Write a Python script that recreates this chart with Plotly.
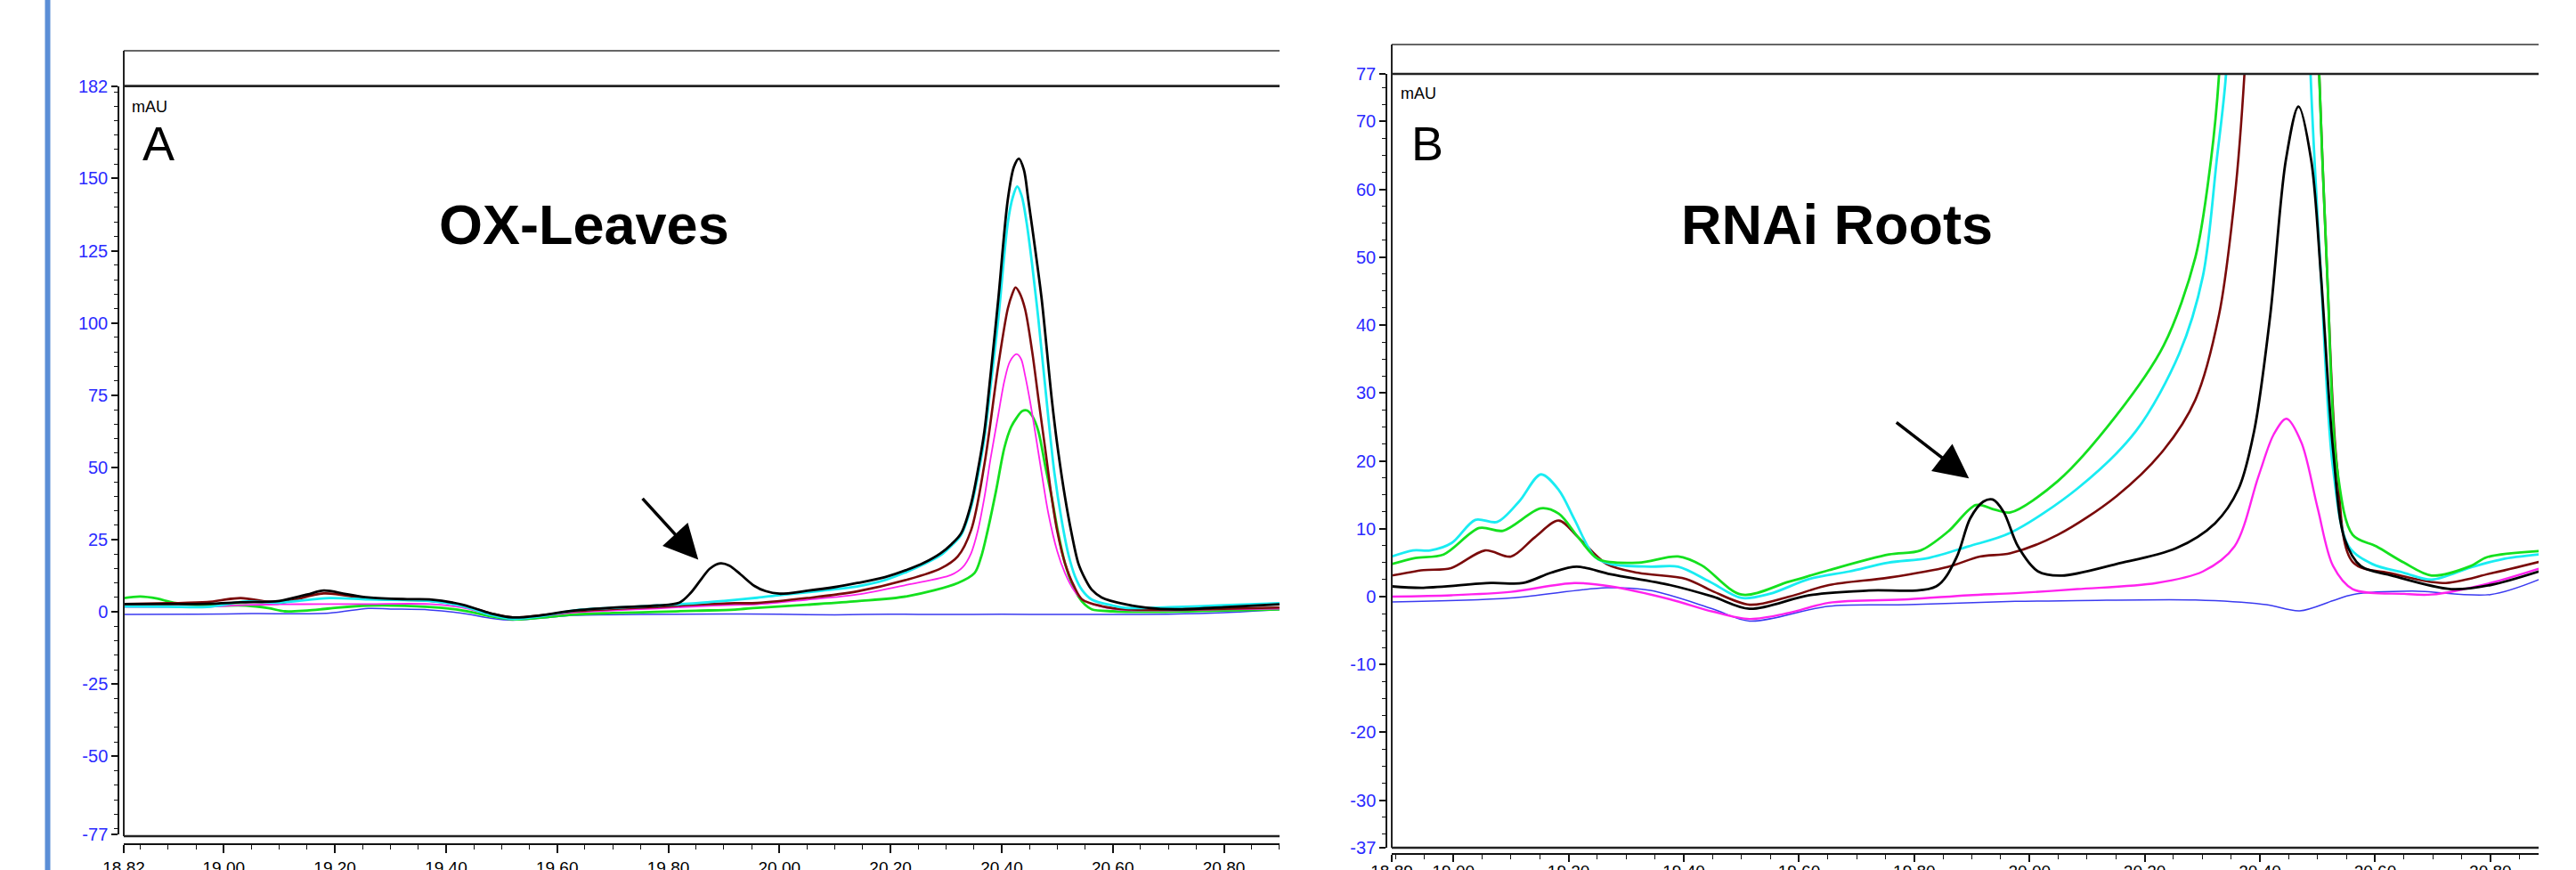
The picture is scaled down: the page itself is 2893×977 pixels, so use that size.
import plotly.graph_objects as go

W, H = 2893, 977

# ---------------- Panel A : OX-Leaves ----------------
a_black_t = [18.82, 18.90, 18.97, 19.03, 19.10, 19.15, 19.18, 19.22, 19.26, 19.33, 19.37, 19.43, 19.48, 19.52, 19.57,
             19.63, 19.70, 19.78, 19.82, 19.84, 19.86, 19.875, 19.894, 19.91, 19.93, 19.955, 19.975, 20.00, 20.05,
             20.10, 20.14, 20.19, 20.23, 20.26, 20.29, 20.31, 20.327, 20.345, 20.36, 20.369, 20.38, 20.394, 20.411,
             20.422, 20.431, 20.44, 20.448, 20.46, 20.472, 20.49, 20.50, 20.514, 20.525, 20.538, 20.55, 20.562,
             20.58, 20.623, 20.66, 20.712, 20.80, 20.90]
a_black_v = [2.7, 2.7, 2.8, 3.3, 3.8, 6.0, 7.4, 6.2, 5.0, 4.4, 4.3, 2.5, -0.5, -1.9, -1.2,
             0.5, 1.5, 2.2, 3.2, 6.5, 11.5, 15.0, 16.8, 16.0, 13.0, 9.0, 7.2, 6.3, 7.3,
             8.6, 10.0, 12.0, 14.6, 17.0, 20.3, 23.5, 27.2, 37.4, 52.0, 62.6, 82.0, 108.3, 142.6,
             154.0, 156.9, 153.0, 142.6, 126.0, 108.3, 74.0, 58.0, 39.7, 28.0, 16.8, 11.5, 7.7,
             5.0, 2.6, 1.5, 0.9, 1.6, 2.6]

a_cyan_t = [18.82, 18.90, 18.97, 19.04, 19.10, 19.19, 19.26, 19.37, 19.43, 19.48, 19.52, 19.57, 19.63, 19.70, 19.78,
            19.85, 19.90, 19.96, 20.00, 20.07, 20.14, 20.19, 20.231, 20.26, 20.291, 20.31, 20.327, 20.345, 20.357,
            20.369, 20.38, 20.394, 20.411, 20.42, 20.428, 20.436, 20.445, 20.455, 20.466, 20.484, 20.495, 20.508,
            20.52, 20.532, 20.545, 20.562, 20.60, 20.623, 20.70, 20.80, 20.90]
a_cyan_v = [1.9, 1.8, 1.7, 3.6, 3.2, 4.8, 4.3, 3.8, 2.0, -1.0, -2.4, -1.5, 0.5, 1.4, 2.2,
            3.0, 3.8, 4.9, 5.8, 7.2, 8.8, 11.0, 14.0, 16.5, 19.7, 23.0, 26.6, 36.3, 47.0,
            60.3, 78.0, 101.5, 134.6, 143.5, 147.2, 144.0, 134.6, 120.0, 101.5, 67.2, 48.0, 31.7,
            20.0, 12.3, 7.5, 4.3, 2.2, 1.4, 1.6, 2.3, 3.0]

a_maroon_t = [18.82, 18.90, 18.97, 19.03, 19.10, 19.18, 19.26, 19.37, 19.43, 19.48, 19.52, 19.57, 19.63, 19.70,
              19.78, 19.85, 19.92, 19.96, 20.05, 20.14, 20.231, 20.291, 20.321, 20.345, 20.369, 20.394, 20.411,
              20.419, 20.425, 20.432, 20.442, 20.455, 20.466, 20.478, 20.49, 20.50, 20.514, 20.53, 20.545, 20.58,
              20.623, 20.70, 20.80, 20.90]
a_maroon_v = [2.7, 3.0, 3.4, 4.8, 3.2, 6.4, 4.6, 3.8, 2.2, -0.5, -1.9, -1.2, 0.2, 1.0,
              1.7, 2.5, 3.0, 3.1, 4.8, 7.1, 11.2, 15.1, 19.2, 28.3, 51.1, 85.4, 104.9,
              110.0, 112.3, 110.5, 104.9, 90.0, 74.0, 57.0, 39.7, 28.0, 16.8, 9.0, 4.3, 2.0,
              0.9, 0.8, 1.1, 1.5]

a_magenta_t = [18.82, 18.90, 18.97, 19.04, 19.10, 19.18, 19.26, 19.37, 19.43, 19.48, 19.52, 19.57, 19.63, 19.70,
               19.78, 19.85, 19.92, 19.96, 20.05, 20.14, 20.23, 20.309, 20.33, 20.345, 20.357, 20.369, 20.38,
               20.394, 20.405, 20.415, 20.427, 20.435, 20.442, 20.451, 20.46, 20.472, 20.484, 20.50, 20.514,
               20.53, 20.545, 20.58, 20.623, 20.70, 20.80, 20.90]
a_magenta_v = [1.7, 1.7, 1.8, 2.4, 2.6, 2.7, 2.7, 2.7, 1.5, -1.0, -2.2, -1.5, -0.2, 0.5,
               1.2, 1.9, 2.4, 2.6, 4.2, 6.0, 9.4, 12.8, 15.5, 20.3, 28.0, 39.7, 53.0,
               68.3, 80.0, 86.7, 89.2, 87.5, 82.0, 73.0, 62.6, 48.0, 34.1, 21.0, 13.4,
               7.5, 4.3, 1.8, 0.6, 0.5, 0.9, 1.1]

a_green_t = [18.82, 18.85, 18.88, 18.91, 18.97, 19.04, 19.08, 19.11, 19.15, 19.19, 19.26, 19.37, 19.43, 19.48,
             19.52, 19.57, 19.63, 19.70, 19.78, 19.85, 19.92, 19.96, 20.05, 20.14, 20.23, 20.321, 20.351, 20.363,
             20.375, 20.39, 20.405, 20.417, 20.427, 20.437, 20.446, 20.456, 20.466, 20.478, 20.49, 20.502,
             20.514, 20.526, 20.538, 20.55, 20.562, 20.60, 20.682, 20.80, 20.90]
a_green_v = [4.8, 5.3, 4.6, 3.2, 2.2, 2.2, 1.3, 0.2, 0.5, 1.2, 2.2, 1.7, 0.5, -1.5,
             -2.6, -2.0, -0.9, -0.4, 0.0, 0.4, 0.8, 1.4, 2.5, 3.7, 5.4, 10.0, 13.4, 19.0,
             28.3, 42.0, 56.9, 64.0, 67.2, 69.5, 69.7, 67.5, 62.6, 51.0, 39.7, 27.0,
             16.8, 10.0, 5.4, 2.5, 0.9, 0.2, 0.0, 0.5, 0.9]

a_blue_t = [18.82, 18.95, 19.05, 19.19, 19.26, 19.30, 19.37, 19.43, 19.48, 19.52, 19.57, 19.63, 19.75, 19.90,
            20.00, 20.10, 20.20, 20.30, 20.40, 20.50, 20.60, 20.70, 20.80, 20.90]
a_blue_v = [-0.9, -0.8, -0.6, -0.4, 1.2, 1.0, 0.7, -0.5, -2.2, -2.9, -2.2, -1.2, -0.9, -0.7,
            -0.8, -1.0, -0.8, -0.9, -0.8, -0.9, -0.9, -0.8, -0.3, 0.8]

# ---------------- Panel B : RNAi Roots ----------------
b_cyan_t = [18.893, 18.93, 18.96, 18.997, 19.038, 19.076, 19.114, 19.152, 19.183, 19.21, 19.245, 19.273, 19.342,
            19.39, 19.445, 19.50, 19.549, 19.618, 19.687, 19.755, 19.825, 19.894, 19.967, 20.083, 20.185, 20.26,
            20.301, 20.325, 20.341, 20.36, 20.40, 20.44, 20.47, 20.488, 20.506, 20.527, 20.554, 20.595, 20.65,
            20.698, 20.766, 20.82, 20.884]
b_cyan_v = [5.9, 6.8, 6.8, 7.9, 11.3, 11.0, 14.0, 18.0, 15.7, 11.4, 5.9, 4.8, 4.4,
            4.4, 2.2, -0.2, 0.4, 2.6, 3.7, 5.0, 5.7, 7.4, 9.4, 15.9, 24.4, 35.8,
            47.2, 64.3, 76.8, 110.0, 170.0, 190.0, 140.0, 76.8, 47.2, 18.8, 7.4, 4.8, 3.5,
            2.5, 4.3, 5.5, 6.2]

b_green_t = [18.893, 18.934, 18.983, 19.045, 19.086, 19.152, 19.183, 19.217, 19.252, 19.321, 19.39, 19.431, 19.50,
             19.583, 19.652, 19.756, 19.811, 19.859, 19.907, 19.94, 19.967, 20.049, 20.151, 20.233, 20.288,
             20.315, 20.329, 20.345, 20.40, 20.45, 20.49, 20.503, 20.517, 20.534, 20.561, 20.602, 20.65, 20.698,
             20.766, 20.794, 20.884]
b_green_v = [4.8, 5.7, 6.2, 10.1, 9.7, 13.0, 12.2, 8.7, 5.5, 5.0, 5.9, 4.6, 0.3,
             2.2, 3.9, 6.2, 6.8, 9.6, 13.5, 12.8, 12.4, 17.0, 26.7, 37.0, 50.0,
             64.3, 76.8, 110.0, 180.0, 190.0, 120.0, 76.8, 47.2, 18.8, 9.1, 7.4, 5.0, 3.1,
             4.5, 5.8, 6.7]

b_maroon_t = [18.893, 18.948, 18.996, 19.055, 19.10, 19.141, 19.183, 19.217, 19.266, 19.321, 19.404, 19.45, 19.514,
              19.583, 19.652, 19.756, 19.859, 19.914, 19.967, 20.049, 20.151, 20.233, 20.288, 20.329, 20.356,
              20.373, 20.39, 20.43, 20.47, 20.49, 20.503, 20.517, 20.534, 20.561, 20.629, 20.718, 20.80, 20.884]
b_maroon_v = [3.1, 3.9, 4.2, 6.8, 5.9, 8.7, 11.2, 8.7, 4.8, 3.5, 2.6, 0.8, -1.2,
              0.0, 1.7, 2.8, 4.4, 5.9, 6.4, 9.1, 14.8, 21.6, 29.0, 41.5, 58.6,
              76.8, 110.0, 180.0, 170.0, 110.0, 76.8, 47.0, 19.0, 5.1, 3.4, 2.0, 3.4, 5.1]

b_black_t = [18.893, 18.948, 19.065, 19.121, 19.169, 19.214, 19.273, 19.376, 19.45, 19.514, 19.618, 19.721, 19.838,
             19.873, 19.897, 19.92, 19.936, 19.955, 19.98, 20.015, 20.056, 20.151, 20.254, 20.322, 20.363, 20.39,
             20.418, 20.445, 20.467, 20.489, 20.506, 20.527, 20.547, 20.575, 20.629, 20.732, 20.80, 20.884]
b_black_v = [1.5, 1.3, 2.0, 2.0, 3.5, 4.4, 3.3, 1.7, 0.0, -1.8, 0.2, 0.9, 1.5,
             5.7, 11.5, 14.0, 14.3, 12.5, 7.4, 3.7, 3.1, 4.8, 7.1, 10.8, 15.9, 24.4,
             41.5, 64.3, 72.2, 64.3, 47.2, 21.6, 8.5, 4.5, 3.1, 1.1, 1.7, 3.7]

b_magenta_t = [18.893, 18.997, 19.10, 19.21, 19.273, 19.376, 19.45, 19.514, 19.583, 19.652, 19.79, 19.894, 19.975,
               20.083, 20.22, 20.301, 20.356, 20.397, 20.424, 20.446, 20.472, 20.50, 20.527, 20.561, 20.65,
               20.698, 20.80, 20.884]
b_magenta_v = [0.0, 0.2, 0.7, 2.0, 1.5, -0.4, -2.2, -3.3, -2.4, -0.9, -0.4, 0.2, 0.5,
               1.1, 2.0, 3.7, 7.4, 17.6, 23.9, 26.2, 22.7, 13.1, 4.5, 1.1, 0.4,
               0.3, 2.0, 4.1]

b_blue_t = [18.893, 19.10, 19.266, 19.342, 19.45, 19.514, 19.652, 19.79, 19.975, 20.083, 20.288, 20.411, 20.469,
            20.527, 20.561, 20.664, 20.80, 20.884]
b_blue_v = [-0.8, -0.2, 1.3, 0.9, -1.8, -3.6, -1.4, -1.2, -0.7, -0.6, -0.5, -1.2, -2.1,
            -0.6, 0.3, 0.8, 0.3, 2.5]

# ---------------- axes / labels ----------------
a_xticks = [18.82, 19.0, 19.2, 19.4, 19.6, 19.8, 20.0, 20.2, 20.4, 20.6, 20.8]
a_xlabels = ["18.82", "19.00", "19.20", "19.40", "19.60", "19.80", "20.00", "20.20", "20.40", "20.60", "20.80"]
a_yticks = [-77, -50, -25, 0, 25, 50, 75, 100, 125, 150, 182]
b_xticks = [18.893, 19.0, 19.2, 19.4, 19.6, 19.8, 20.0, 20.2, 20.4, 20.6, 20.8]
b_xlabels = ["18.89", "19.00", "19.20", "19.40", "19.60", "19.80", "20.00", "20.20", "20.40", "20.60", "20.80"]
b_yticks = [-37, -30, -20, -10, 0, 10, 20, 30, 40, 50, 60, 70, 77]

COLORS = {"black": "#000000", "cyan": "#19ECF2", "maroon": "#7A0A0A", "magenta": "#FF22EE",
          "green": "#14E01E", "blue": "#3A3AF0"}
WIDTHS = {"black": 2.8, "cyan": 2.8, "maroon": 2.6, "magenta": 1.8, "green": 2.8, "blue": 1.5}


def X(px):
    return px / W


def Y(py):
    return 1 - py / H


fig = go.Figure()

panel_a = [("blue", a_blue_t, a_blue_v), ("green", a_green_t, a_green_v), ("magenta", a_magenta_t, a_magenta_v),
           ("maroon", a_maroon_t, a_maroon_v), ("cyan", a_cyan_t, a_cyan_v), ("black", a_black_t, a_black_v)]
panel_b = [("blue", b_blue_t, b_blue_v), ("magenta", b_magenta_t, b_magenta_v), ("maroon", b_maroon_t, b_maroon_v),
           ("cyan", b_cyan_t, b_cyan_v), ("green", b_green_t, b_green_v), ("black", b_black_t, b_black_v)]

for name, t, v in panel_a:
    fig.add_trace(go.Scatter(x=t, y=v, mode="lines", xaxis="x", yaxis="y", showlegend=False,
                             line=dict(color=COLORS[name], width=WIDTHS[name], shape="spline", smoothing=0.9)))
for name, t, v in panel_b:
    w = 2.4 if name == "magenta" else WIDTHS[name]
    fig.add_trace(go.Scatter(x=t, y=v, mode="lines", xaxis="x2", yaxis="y2", showlegend=False,
                             line=dict(color=COLORS[name], width=w, shape="spline", smoothing=0.9)))

FONT = "Arial, 'Liberation Sans', sans-serif"
tickfont_y = dict(family=FONT, size=20, color="#2b2bff")
tickfont_x = dict(family=FONT, size=19, color="#000000")

common_x = dict(showgrid=False, zeroline=False, showline=True, linecolor="#111", linewidth=2,
                ticks="outside", ticklen=9, tickwidth=1.5, tickcolor="#111", tickfont=tickfont_x,
                tickmode="array", fixedrange=True, automargin=False)
common_y = dict(showgrid=False, zeroline=False, showline=True, linecolor="#111", linewidth=1.5,
                ticks="outside", ticklen=7, tickwidth=1.5, tickcolor="#111", tickfont=tickfont_y,
                tickmode="array", fixedrange=True, automargin=False)

fig.update_layout(
    width=W, height=H, margin=dict(l=0, r=0, t=0, b=0, pad=0, autoexpand=False),
    paper_bgcolor="white", plot_bgcolor="white", showlegend=False,
    xaxis=dict(common_x, domain=[X(139), X(1437)], range=[18.82, 18.82 + 1298 / 624],
               anchor="free", position=Y(948), tickvals=a_xticks, ticktext=a_xlabels,
               minor=dict(tickmode="linear", tick0=19.0, dtick=0.05, ticklen=5, ticks="outside",
                          tickwidth=1.2, tickcolor="#111")),
    yaxis=dict(common_y, domain=[Y(937), Y(96.6)], range=[-77, 182], anchor="free", position=X(133),
               tickvals=a_yticks, ticktext=[str(v) for v in a_yticks],
               minor=dict(tickmode="linear", tick0=0, dtick=5, ticklen=4, ticks="outside",
                          tickwidth=1.2, tickcolor="#111")),
    xaxis2=dict(common_x, domain=[X(1563), X(2851)], range=[18.893, 18.893 + 1288 / 647],
                anchor="free", position=Y(959), tickvals=b_xticks, ticktext=b_xlabels, ticklen=8,
                ticklabelstandoff=-6,
                minor=dict(tickmode="linear", tick0=19.0, dtick=0.05, ticklen=5, ticks="outside",
                           tickwidth=1.2, tickcolor="#111")),
    yaxis2=dict(common_y, domain=[Y(952), Y(83)], range=[-37, 77], anchor="free", position=X(1557),
                tickvals=b_yticks, ticktext=[str(v) for v in b_yticks],
                minor=dict(tickmode="linear", tick0=0, dtick=2.5, ticklen=4, ticks="outside",
                           tickwidth=1.2, tickcolor="#111")),
)

shapes = [dict(type="rect", xref="paper", yref="paper", x0=X(50.5), x1=X(56.5), y0=0, y1=1,
               fillcolor="#5b8ed6", line=dict(width=0), layer="above")]


def frame(x0, x1, ytop, yaxis_top, ybot):
    return [
        dict(type="line", xref="paper", yref="paper", x0=X(x0), x1=X(x1), y0=Y(ytop), y1=Y(ytop),
             line=dict(color="#333", width=1.6)),
        dict(type="line", xref="paper", yref="paper", x0=X(x0), x1=X(x1), y0=Y(yaxis_top), y1=Y(yaxis_top),
             line=dict(color="#222", width=2.6)),
        dict(type="line", xref="paper", yref="paper", x0=X(x0), x1=X(x0), y0=Y(ytop), y1=Y(ybot),
             line=dict(color="#222", width=2)),
        dict(type="line", xref="paper", yref="paper", x0=X(x0), x1=X(x1), y0=Y(ybot), y1=Y(ybot),
             line=dict(color="#222", width=2.6)),
    ]


shapes += frame(139, 1437, 57, 96.6, 939)
shapes += frame(1563, 2851, 50, 83, 952)
for s in shapes[1:]:
    s["layer"] = "above"
fig.update_layout(shapes=shapes)

ann = []


def txt(text, cx, cy, size, bold=False, anchor="center"):
    ann.append(dict(text=f"<b>{text}</b>" if bold else text, xref="paper", yref="paper",
                    x=X(cx), y=Y(cy), xanchor=anchor, yanchor="middle", showarrow=False,
                    font=dict(family=FONT, size=size, color="black")))


txt("mAU", 146, 120.5, 18, anchor="left")
txt("mAU", 1571, 104.5, 18, anchor="left")
txt("A", 178, 161, 54)
txt("B", 1603, 161, 54)
txt("OX-Leaves", 656, 252, 63, bold=True)
txt("RNAi Roots", 2063, 252, 63, bold=True)

# arrows pointing at the marked peaks (tip in data coordinates)
ann.append(dict(x=19.854, y=18.1, xref="x", yref="y", ax=-64, ay=-70, axref="pixel", ayref="pixel",
                showarrow=True, arrowhead=2, arrowsize=2.2, arrowwidth=3.5, arrowcolor="black", text=""))
ann.append(dict(x=19.895, y=17.4, xref="x2", yref="y2", ax=-83, ay=-64, axref="pixel", ayref="pixel",
                showarrow=True, arrowhead=2, arrowsize=2.2, arrowwidth=3.5, arrowcolor="black", text=""))
fig.update_layout(annotations=ann)

fig.write_html("out.html", config={"displayModeBar": False},
               post_script="document.body.style.margin='0';document.body.style.overflow='hidden';")
